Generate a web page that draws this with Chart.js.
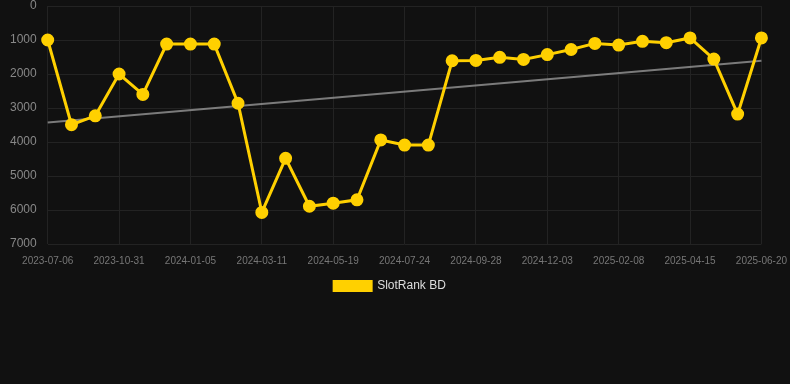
<!DOCTYPE html>
<html>
<head>
<meta charset="utf-8">
<script src="https://cdn.jsdelivr.net/npm/chart.js@4"></script>
<style>
    html, body { margin: 0; padding: 0; background: #111111; }
    #wrap { position: relative; width: 790px; height: 302px; }
</style>
</head>
<body>
<div id="wrap"><canvas id="rankChart"></canvas></div>
<script>
const dates = [
    '2023-07-06', '2023-08-14', '2023-09-22', '2023-10-31', '2023-11-22', '2023-12-14',
    '2024-01-05', '2024-01-27', '2024-02-18', '2024-03-11', '2024-04-03', '2024-04-26',
    '2024-05-19', '2024-06-10', '2024-07-02', '2024-07-24', '2024-08-15', '2024-09-06',
    '2024-09-28', '2024-10-20', '2024-11-11', '2024-12-03', '2024-12-25', '2025-01-17',
    '2025-02-08', '2025-03-02', '2025-03-24', '2025-04-15', '2025-05-07', '2025-05-29',
    '2025-06-20'
];
const rankValues = [
    1000, 3490, 3230, 2000, 2600, 1120, 1120, 1120, 2860, 6070, 4480,
    5890, 5800, 5700, 3940, 4090, 4090, 1610, 1600, 1510, 1570, 1430,
    1280, 1100, 1150, 1040, 1080, 940, 1560, 3180, 940
];
// trend line, only its two end points are given
const trendValues = [3430].concat(new Array(29).fill(null), [1610]);

const gridColor = '#232323';
const everyThird = ctx => (ctx.index % 3 === 0 ? gridColor : 'rgba(0,0,0,0)');

// nudge the legend a little left, like the original
const legendShift = {
    id: 'legendShift',
    afterLayout(chart) {
        chart.legend.left -= 10;
        chart.legend.right -= 10;
    }
};

const ctx = document.getElementById('rankChart').getContext('2d');
new Chart(ctx, {
    type: 'line',
    data: {
        labels: dates,
        datasets: [
            {
                label: 'SlotRank BD',
                data: rankValues,
                borderColor: '#FFD000',
                backgroundColor: '#FFD000',
                borderWidth: 3,
                pointRadius: 5,
                pointHoverRadius: 6,
                tension: 0,
                order: 1
            },
            {
                label: 'trend',
                data: trendValues,
                borderColor: 'rgba(150,150,150,0.8)',
                borderWidth: 2,
                pointRadius: 0,
                spanGaps: true,
                order: 2
            }
        ]
    },
    plugins: [legendShift],
    options: {
        responsive: true,
        maintainAspectRatio: false,
        animation: false,
        layout: { autoPadding: false, padding: { left: 10, right: 0, top: 0, bottom: 0 } },
        plugins: {
            legend: {
                position: 'bottom',
                labels: {
                    color: '#dddddd',
                    font: { family: 'Liberation Sans, Arial', size: 12 },
                    boxWidth: 37,
                    boxHeight: 9,
                    filter: item => item.text !== 'trend'
                }
            },
            tooltip: { enabled: false }
        },
        scales: {
            x: {
                grid: { color: everyThird, tickColor: 'rgba(0,0,0,0)' },
                border: { display: false },
                ticks: {
                    color: '#777777',
                    font: { family: 'Liberation Sans, Arial', size: 10 },
                    maxRotation: 0,
                    autoSkip: false,
                    callback: function (val, i) {
                        return i % 3 === 0 ? this.getLabelForValue(val) : '';
                    }
                }
            },
            y: {
                reverse: true,
                min: 0,
                max: 7000,
                grid: { color: gridColor, tickColor: 'rgba(0,0,0,0)', tickLength: 11 },
                border: { display: false },
                ticks: {
                    stepSize: 1000,
                    padding: 0,
                    color: '#888888',
                    font: { family: 'Liberation Sans, Arial', size: 12, lineHeight: 1 },
                    callback: v => String(v)
                }
            }
        }
    }
});
</script>
</body>
</html>
